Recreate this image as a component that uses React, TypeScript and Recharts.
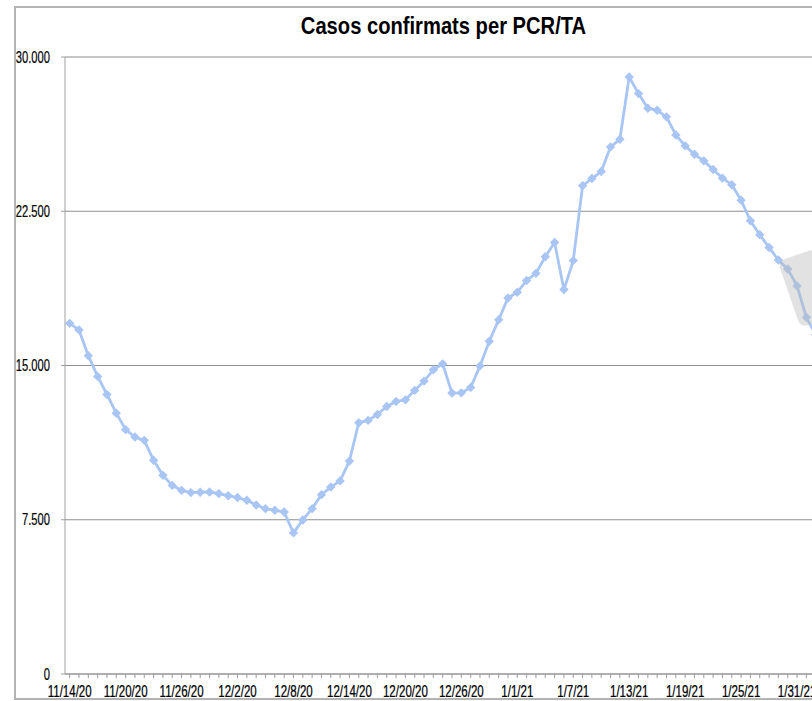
import { LineChart, Line, XAxis, YAxis, CartesianGrid } from "recharts";

// Daily confirmed cases (PCR/TA), 11/14/20 – 2/2/21.

const dates = [
  "11/14/20", "11/15/20", "11/16/20", "11/17/20", "11/18/20", "11/19/20", "11/20/20",
  "11/21/20", "11/22/20", "11/23/20", "11/24/20", "11/25/20", "11/26/20", "11/27/20",
  "11/28/20", "11/29/20", "11/30/20",
  "12/1/20", "12/2/20", "12/3/20", "12/4/20", "12/5/20", "12/6/20", "12/7/20", "12/8/20",
  "12/9/20", "12/10/20", "12/11/20", "12/12/20", "12/13/20", "12/14/20", "12/15/20",
  "12/16/20", "12/17/20", "12/18/20", "12/19/20", "12/20/20", "12/21/20", "12/22/20",
  "12/23/20", "12/24/20", "12/25/20", "12/26/20", "12/27/20", "12/28/20", "12/29/20",
  "12/30/20", "12/31/20",
  "1/1/21", "1/2/21", "1/3/21", "1/4/21", "1/5/21", "1/6/21", "1/7/21", "1/8/21",
  "1/9/21", "1/10/21", "1/11/21", "1/12/21", "1/13/21", "1/14/21", "1/15/21", "1/16/21",
  "1/17/21", "1/18/21", "1/19/21", "1/20/21", "1/21/21", "1/22/21", "1/23/21", "1/24/21",
  "1/25/21", "1/26/21", "1/27/21", "1/28/21", "1/29/21", "1/30/21", "1/31/21",
  "2/1/21", "2/2/21",
];

const cases = [
  17050, 16730, 15480, 14470, 13590, 12680, 11880, 11520, 11360, 10390,
  9660, 9170, 8930, 8820, 8840, 8850, 8770, 8670, 8580, 8450,
  8220, 8040, 7960, 7880, 6860, 7490, 8040, 8720, 9090, 9390,
  10360, 12220, 12330, 12620, 13010, 13250, 13330, 13790, 14240, 14790,
  15080, 13660, 13670, 13930, 14980, 16180, 17220, 18280, 18560, 19130,
  19480, 20290, 20980, 18690, 20100, 23740, 24090, 24430, 25630, 26000,
  29030, 28220, 27510, 27410, 27090, 26210, 25680, 25270, 24950, 24530,
  24110, 23790, 23040, 22040, 21360, 20740, 20130, 19690, 18870, 17340,
  16500,
];

const tickLabels = [
  "11/14/20", "11/20/20", "11/26/20", "12/2/20", "12/8/20", "12/14/20", "12/20/20",
  "12/26/20", "1/1/21", "1/7/21", "1/13/21", "1/19/21", "1/25/21", "1/31/21",
];

const yTicks = [0, 7500, 15000, 22500, 30000];

const data = dates.map((date, i) => ({ day: i, date, cases: cases[i] }));
const dayTicks = dates.map((_, i) => i);

// no narrow face installed, so the condensed look of the original is faked with scaleX
const FONT = '"Liberation Sans", Arial, sans-serif';
const LINE = "#a8c5f3";
const GRID = "#8e8e8e";

const fmt = (v: number) => v.toLocaleString("de-DE");

function DateTick({ x, y, payload }: any) {
  const label = dates[payload.value];
  if (!tickLabels.includes(label)) return <g />;
  return (
    <text
      transform={`translate(${x},${y}) scale(0.72,1)`}
      dy="0.71em"
      textAnchor="middle"
      fontFamily={FONT}
      fontSize={16}
      fill="#000"
      stroke="#000"
      strokeWidth={0.25}
    >
      {label}
    </text>
  );
}

function ValueTick({ x, y, payload }: any) {
  return (
    <text
      transform={`translate(${x},${y}) scale(0.7,1)`}
      dy="0.355em"
      textAnchor="end"
      fontFamily={FONT}
      fontSize={16}
      fill="#000"
      stroke="#000"
      strokeWidth={0.2}
    >
      {fmt(payload.value)}
    </text>
  );
}

function Diamond({ cx, cy, index }: any) {
  if (cx == null || cy == null) return <g key={`d-${index}`} />;
  const r = 4.7;
  return (
    <polygon
      key={`d-${index}`}
      points={`${cx},${cy - r} ${cx + r},${cy} ${cx},${cy + r} ${cx - r},${cy}`}
      fill={LINE}
      stroke="none"
    />
  );
}

export default function App() {
  return (
    <div
      style={{
        position: "fixed",
        left: 0,
        top: 0,
        width: 812,
        height: 701,
        overflow: "hidden",
        background: "#fff",
      }}
    >
      <div
        style={{
          position: "absolute",
          left: 14,
          top: 6,
          width: 900,
          height: 694,
          boxSizing: "border-box",
          border: "2px solid #b4b4b4",
        }}
      />
      <div
        style={{
          position: "absolute",
          left: 0,
          top: 14,
          width: 887,
          textAlign: "center",
          fontFamily: FONT,
          fontWeight: "bold",
          fontSize: 24,
          lineHeight: "24px",
          color: "#000",
          transform: "scaleX(0.84)",
          transformOrigin: "443.5px 0",
        }}
      >
        Casos confirmats per PCR/TA
      </div>
      <div style={{ position: "absolute", left: 0, top: 0 }}>
        <LineChart
          width={900}
          height={701}
          data={data}
          margin={{ top: 57, right: 47, bottom: 0, left: 0 }}
        >
          <CartesianGrid vertical={false} stroke={GRID} strokeWidth={1.2} />
          <XAxis
            dataKey="day"
            type="number"
            domain={[-0.5, 84]}
            ticks={dayTicks}
            interval={0}
            height={27}
            tickSize={4}
            tickMargin={8}
            stroke="#9a9a9a"
            tick={<DateTick />}
          />
          <YAxis
            type="number"
            domain={[0, 30000]}
            ticks={yTicks}
            interval={0}
            width={65}
            tickSize={4}
            tickMargin={11}
            stroke="#a0a0a0"
            tick={<ValueTick />}
          />
          <Line
            type="linear"
            dataKey="cases"
            stroke={LINE}
            strokeWidth={2.8}
            dot={Diamond}
            activeDot={false}
            isAnimationActive={false}
          />
        </LineChart>
      </div>
      <div
        style={{
          position: "absolute",
          left: 788,
          top: 253,
          width: 40,
          height: 70,
          borderRadius: 7,
          background: "rgba(185,185,185,0.42)",
          transform: "rotate(-19deg)",
        }}
      />
    </div>
  );
}
